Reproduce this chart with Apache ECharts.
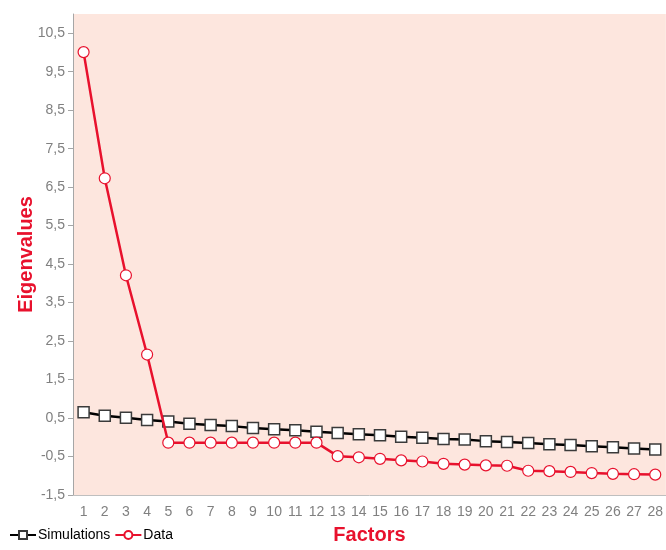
<!DOCTYPE html>
<html>
<head>
<meta charset="utf-8">
<script src="https://cdn.jsdelivr.net/npm/echarts@6/dist/echarts.min.js"></script>
<style>html,body{margin:0;padding:0;background:#fff}#c{width:666px;height:550px}</style>
</head>
<body>
<div id="c"></div>
<script>
var factors = ['1','2','3','4','5','6','7','8','9','10','11','12','13','14','15','16','17','18','19','20','21','22','23','24','25','26','27','28'];
var simulations = [0.65,0.56,0.51,0.45,0.41,0.35,0.32,0.29,0.24,0.21,0.18,0.145,0.11,0.076,0.05,0.015,-0.01,-0.045,-0.06,-0.10,-0.12,-0.15,-0.18,-0.20,-0.23,-0.26,-0.29,-0.32];
var dataValues = [10.01,6.73,4.21,2.15,-0.14,-0.14,-0.14,-0.14,-0.14,-0.14,-0.14,-0.14,-0.49,-0.52,-0.56,-0.60,-0.63,-0.69,-0.71,-0.73,-0.74,-0.87,-0.88,-0.90,-0.93,-0.95,-0.96,-0.97];
var yTicks = [-1.5,-0.5,0.5,1.5,2.5,3.5,4.5,5.5,6.5,7.5,8.5,9.5,10.5];

var FONT = "'Liberation Sans', Arial, sans-serif";
var chart = echarts.init(document.getElementById('c'));
chart.setOption({
  animation: false,
  grid: {left: 73, top: 14, width: 595, bottom: 52, show: true, backgroundColor: '#fde6de', borderWidth: 0},
  legend: {
    left: 4, bottom: 3, itemWidth: 26, itemHeight: 10, itemGap: 4,
    textStyle: {fontFamily: FONT, fontSize: 14, color: '#000', padding: [0,0,0,-3]},
    data: ['Simulations', 'Data']
  },
  xAxis: {
    type: 'category', data: factors, boundaryGap: true,
    name: 'Factors', nameLocation: 'middle', nameGap: 30, nameMoveOverlap: false,
    nameTextStyle: {fontFamily: FONT, fontSize: 20, fontWeight: 'bold', color: '#e8112d'},
    axisLine: {show: true, onZero: false, lineStyle: {color: '#bfbfbf', width: 1}},
    axisTick: {show: false},
    axisLabel: {fontFamily: FONT, fontSize: 14, color: '#808080', margin: 10, interval: 0}
  },
  yAxis: {
    type: 'value', min: -1.5, max: 11,
    name: 'Eigenvalues', nameLocation: 'middle', nameGap: 37, nameMoveOverlap: false,
    nameTextStyle: {fontFamily: FONT, fontSize: 20, fontWeight: 'bold', color: '#e8112d'},
    axisLine: {show: true, lineStyle: {color: '#a6a6a6', width: 1}},
    axisTick: {show: true, length: 5, customValues: yTicks, lineStyle: {color: '#a6a6a6'}},
    axisLabel: {fontFamily: FONT, fontSize: 14, color: '#808080', margin: 8, customValues: yTicks,
      formatter: function (v) { return v.toFixed(1).replace('.', ','); }},
    splitLine: {show: false}
  },
  series: [
    {
      name: 'Simulations', type: 'line', data: simulations,
      symbol: 'rect', symbolSize: 11,
      lineStyle: {color: '#000', width: 2.5},
      itemStyle: {color: '#fff', borderColor: '#3a3a3a', borderWidth: 1.5},
      z: 2
    },
    {
      name: 'Data', type: 'line', data: dataValues,
      symbol: 'circle', symbolSize: 11,
      lineStyle: {color: '#e8112d', width: 2.5},
      itemStyle: {color: '#fff', borderColor: '#e8112d', borderWidth: 1.2},
      z: 3
    }
  ]
});
</script>
</body>
</html>
